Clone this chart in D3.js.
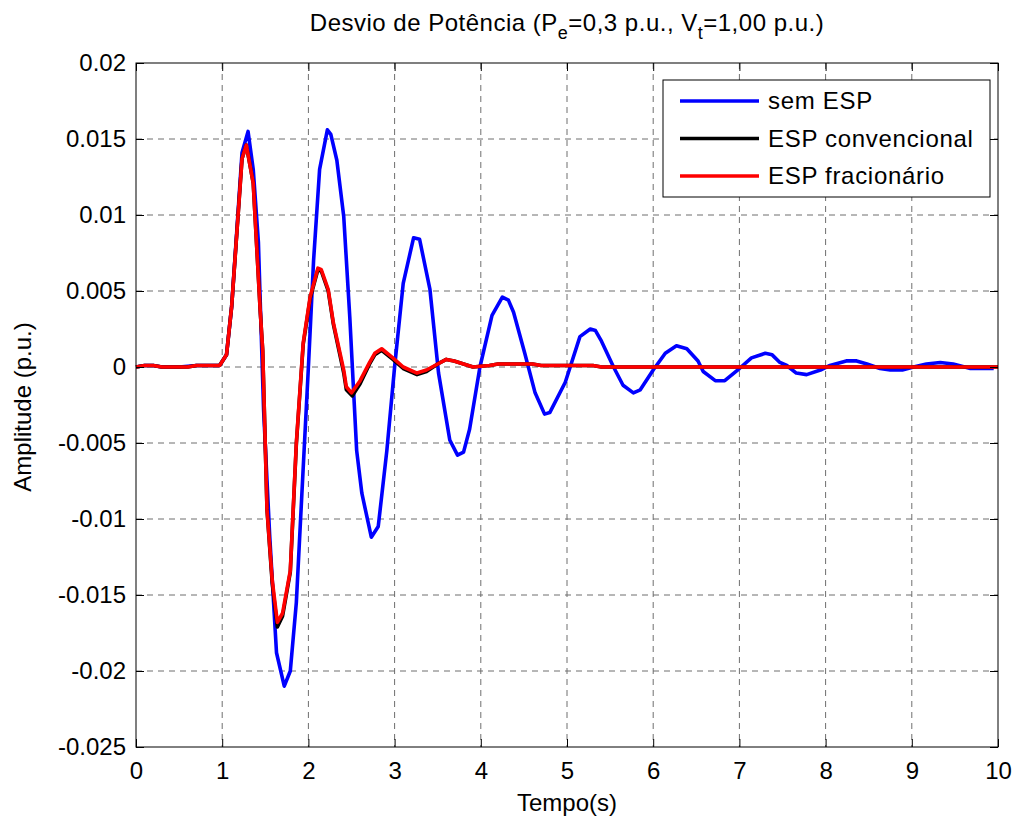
<!DOCTYPE html>
<html lang="pt">
<head>
<meta charset="utf-8">
<title>Desvio de Potência</title>
<script src="https://cdnjs.cloudflare.com/ajax/libs/d3/7.8.5/d3.min.js"></script>
<style>
  body { margin: 0; background: #fff; }
  text { font-family: "Liberation Sans", Arial, sans-serif; fill: #000; }
  .grid line { stroke: #6e6e6e; stroke-width: 1; stroke-dasharray: 6,5; }
</style>
</head>
<body>
<script>
// series: sem ESP (blue)
var tSem = [0, 0.1, 0.2, 0.3, 0.5, 0.7, 0.8, 0.97, 1.05, 1.11, 1.17, 1.23, 1.30, 1.36, 1.42, 1.48, 1.55, 1.63, 1.72, 1.79, 1.86, 1.94, 2.0, 2.06, 2.13, 2.22, 2.26, 2.33, 2.41, 2.48, 2.56, 2.62, 2.73, 2.81, 2.91, 3.0, 3.10, 3.22, 3.29, 3.41, 3.51, 3.64, 3.73, 3.80, 3.87, 3.99, 4.13, 4.25, 4.32, 4.38, 4.51, 4.63, 4.74, 4.80, 4.98, 5.15, 5.27, 5.33, 5.40, 5.54, 5.65, 5.77, 5.85, 6.0, 6.14, 6.27, 6.39, 6.52, 6.58, 6.72, 6.83, 7.0, 7.14, 7.30, 7.38, 7.47, 7.55, 7.66, 7.78, 7.94, 8.05, 8.24, 8.36, 8.48, 8.63, 8.75, 8.89, 9.02, 9.17, 9.33, 9.48, 9.68, 9.95];
var semESP = [0, 0.0001, 0.0001, 0, 0, 0.0001, 0.0001, 0.0001, 0.0008, 0.004, 0.009, 0.0141, 0.0155, 0.0130, 0.0082, -0.0028, -0.011, -0.0188, -0.0210, -0.0200, -0.0155, -0.0066, 0, 0.007, 0.0130, 0.0156, 0.0153, 0.0136, 0.0099, 0.0033, -0.0055, -0.0083, -0.0112, -0.0105, -0.0055, 0, 0.0055, 0.0085, 0.0084, 0.0051, -0.0004, -0.0048, -0.0058, -0.0056, -0.0041, 0, 0.0034, 0.0046, 0.0044, 0.0036, 0.0009, -0.0017, -0.0031, -0.0030, -0.001, 0.002, 0.0025, 0.0024, 0.0017, 0, -0.0012, -0.0017, -0.0015, -0.0002, 0.0009, 0.0014, 0.0012, 0.0004, -0.0003, -0.0009, -0.0009, -0.0001, 0.0006, 0.0009, 0.0008, 0.0003, 0.0001, -0.0004, -0.0005, -0.0002, 0.0001, 0.0004, 0.0004, 0.0002, -0.0001, -0.0002, -0.0002, 0, 0.0002, 0.0003, 0.0002, -0.0001, -0.0001];

// series: ESP convencional (black)
var tConv = [0, 0.1, 0.2, 0.3, 0.6, 0.7, 0.97, 1.05, 1.11, 1.23, 1.28, 1.36, 1.44, 1.47, 1.52, 1.58, 1.64, 1.70, 1.79, 1.86, 1.94, 2.02, 2.11, 2.15, 2.23, 2.29, 2.41, 2.44, 2.51, 2.60, 2.71, 2.77, 2.85, 2.98, 3.10, 3.26, 3.37, 3.50, 3.60, 3.69, 3.80, 3.91, 4.1, 4.2, 4.6, 4.7, 5.3, 5.4, 10];
var convESP = [0, 0.0001, 0.0001, 0, 0, 0.0001, 0.0001, 0.0008, 0.004, 0.0137, 0.0146, 0.0121, 0.0038, 0.0011, -0.0094, -0.0142, -0.0171, -0.0164, -0.0135, -0.0051, 0.0015, 0.0045, 0.0064, 0.0063, 0.0050, 0.0028, -0.0004, -0.0015, -0.0019, -0.0011, 0.0002, 0.0008, 0.0011, 0.0005, -0.0001, -0.0005, -0.0003, 0.0002, 0.0005, 0.0004, 0.0002, 0, 0.0001, 0.0002, 0.0002, 0.0001, 0.0001, 0, 0];

// series: ESP fracionário (red)
var tFrac = [0, 0.1, 0.2, 0.3, 0.6, 0.7, 0.97, 1.05, 1.11, 1.23, 1.28, 1.36, 1.44, 1.47, 1.52, 1.58, 1.64, 1.70, 1.79, 1.86, 1.94, 2.02, 2.11, 2.15, 2.23, 2.29, 2.41, 2.44, 2.50, 2.60, 2.71, 2.77, 2.85, 2.98, 3.10, 3.26, 3.37, 3.50, 3.60, 3.69, 3.80, 3.91, 4.1, 4.2, 4.6, 4.7, 5.3, 5.4, 10];
var fracESP = [0, 0.0001, 0.0001, 0, 0, 0.0001, 0.0001, 0.0008, 0.004, 0.0137, 0.0146, 0.0121, 0.0038, 0.0011, -0.0094, -0.0140, -0.0168, -0.0162, -0.0134, -0.0050, 0.0016, 0.0046, 0.0065, 0.0064, 0.0051, 0.0029, -0.0002, -0.0013, -0.0017, -0.0009, 0.0003, 0.0009, 0.0012, 0.0006, 0, -0.0004, -0.0002, 0.0002, 0.0005, 0.0004, 0.0002, 0, 0.0001, 0.0002, 0.0002, 0.0001, 0.0001, 0, 0];

var seriesNames = ["sem ESP", "ESP convencional", "ESP fracionário"];
var seriesColors = ["#0000ff", "#000000", "#ff0000"];

var xTicks = [0, 1, 2, 3, 4, 5, 6, 7, 8, 9, 10];
var yTicks = [-0.025, -0.02, -0.015, -0.01, -0.005, 0, 0.005, 0.01, 0.015, 0.02];
var yTickLabels = ["-0.025", "-0.02", "-0.015", "-0.01", "-0.005", "0", "0.005", "0.01", "0.015", "0.02"];

var W = 1022, H = 820;
var margin = {top: 63, right: 24, bottom: 73, left: 136};
var width = W - margin.left - margin.right,
    height = H - margin.top - margin.bottom;

var svg = d3.select("body").append("svg")
  .attr("width", W)
  .attr("height", H);

svg.append("rect").attr("width", W).attr("height", H).attr("fill", "#fff");

var g = svg.append("g")
  .attr("transform", "translate(" + margin.left + "," + margin.top + ")");

var x = d3.scaleLinear().domain([0, 10]).range([0, width]);
var y = d3.scaleLinear().domain([-0.025, 0.02]).range([height, 0]);

// grid
var grid = g.append("g").attr("class", "grid");
grid.selectAll(".gx").data(xTicks.slice(1, -1)).enter().append("line")
  .attr("x1", function(d) { return x(d); }).attr("x2", function(d) { return x(d); })
  .attr("y1", 0).attr("y2", height);
grid.selectAll(".gy").data(yTicks.slice(1, -1)).enter().append("line")
  .attr("y1", function(d) { return y(d); }).attr("y2", function(d) { return y(d); })
  .attr("x1", 0).attr("x2", width);

// curves
var line = d3.line()
  .x(function(d) { return x(d[0]); })
  .y(function(d) { return y(d[1]); });

var curves = [
  d3.zip(tSem, semESP),
  d3.zip(tConv, convESP),
  d3.zip(tFrac, fracESP)
];

g.selectAll(".curve").data(curves).enter().append("path")
  .attr("class", "curve")
  .attr("d", line)
  .attr("fill", "none")
  .attr("stroke", function(d, i) { return seriesColors[i]; })
  .attr("stroke-width", 3.6)
  .attr("stroke-linejoin", "round");

// axes with inward ticks
var tickLen = 8;
var fmtY = function(d) { return yTickLabels[yTicks.indexOf(d)]; };

g.append("g")
  .attr("transform", "translate(0," + height + ")")
  .call(d3.axisBottom(x).tickValues(xTicks).tickSize(-tickLen).tickPadding(16).tickSizeOuter(0))
  .call(function(a) {
    a.select(".domain").remove();
    a.selectAll("text").style("font-size", "24px").attr("dy", "0.66em");
  });
g.append("g")
  .call(d3.axisTop(x).tickValues(xTicks).tickSize(-tickLen).tickFormat("").tickSizeOuter(0))
  .call(function(a) { a.select(".domain").remove(); });
g.append("g")
  .call(d3.axisLeft(y).tickValues(yTicks).tickFormat(fmtY).tickSize(-tickLen).tickPadding(10).tickSizeOuter(0))
  .call(function(a) {
    a.select(".domain").remove();
    a.selectAll("text").style("font-size", "24px");
  });
g.append("g")
  .attr("transform", "translate(" + width + ",0)")
  .call(d3.axisRight(y).tickValues(yTicks).tickFormat("").tickSize(-tickLen).tickSizeOuter(0))
  .call(function(a) { a.select(".domain").remove(); });

g.selectAll(".tick line").attr("stroke", "#000");

g.append("rect")
  .attr("width", width).attr("height", height)
  .attr("fill", "none").attr("stroke", "#000").attr("stroke-width", 1);

// legend
var leg = g.append("g").attr("transform", "translate(" + (663 - margin.left) + "," + (80 - margin.top) + ")");
leg.append("rect").attr("width", 327).attr("height", 117)
  .attr("fill", "#fff").attr("stroke", "#000").attr("stroke-width", 1);
var rows = leg.selectAll(".row").data(seriesNames).enter().append("g")
  .attr("transform", function(d, i) { return "translate(0," + (21 + i * 37.5) + ")"; });
rows.append("line").attr("x1", 17).attr("x2", 96)
  .attr("stroke", function(d, i) { return seriesColors[i]; }).attr("stroke-width", 3.6);
rows.append("text").attr("x", 105).attr("dy", "0.35em")
  .style("font-size", "24px").style("letter-spacing", "0.7px")
  .text(function(d) { return d; });

// title
var title = svg.append("text")
  .attr("x", margin.left + width / 2).attr("y", 31)
  .attr("text-anchor", "middle").style("font-size", "24px").style("letter-spacing", "0.5px");
title.append("tspan").text("Desvio de Potência (P");
title.append("tspan").attr("dy", 8).style("font-size", "18px").text("e");
title.append("tspan").attr("dy", -8).text("=0,3 p.u., V");
title.append("tspan").attr("dy", 8).style("font-size", "18px").text("t");
title.append("tspan").attr("dy", -8).text("=1,00 p.u.)");

// axis labels
svg.append("text")
  .attr("x", margin.left + width / 2).attr("y", 811)
  .attr("text-anchor", "middle").style("font-size", "24px")
  .text("Tempo(s)");
svg.append("text")
  .attr("transform", "translate(31," + (margin.top + height / 2 + 2) + ") rotate(-90)")
  .attr("text-anchor", "middle").style("font-size", "24px")
  .text("Amplitude (p.u.)");
</script>
</body>
</html>
